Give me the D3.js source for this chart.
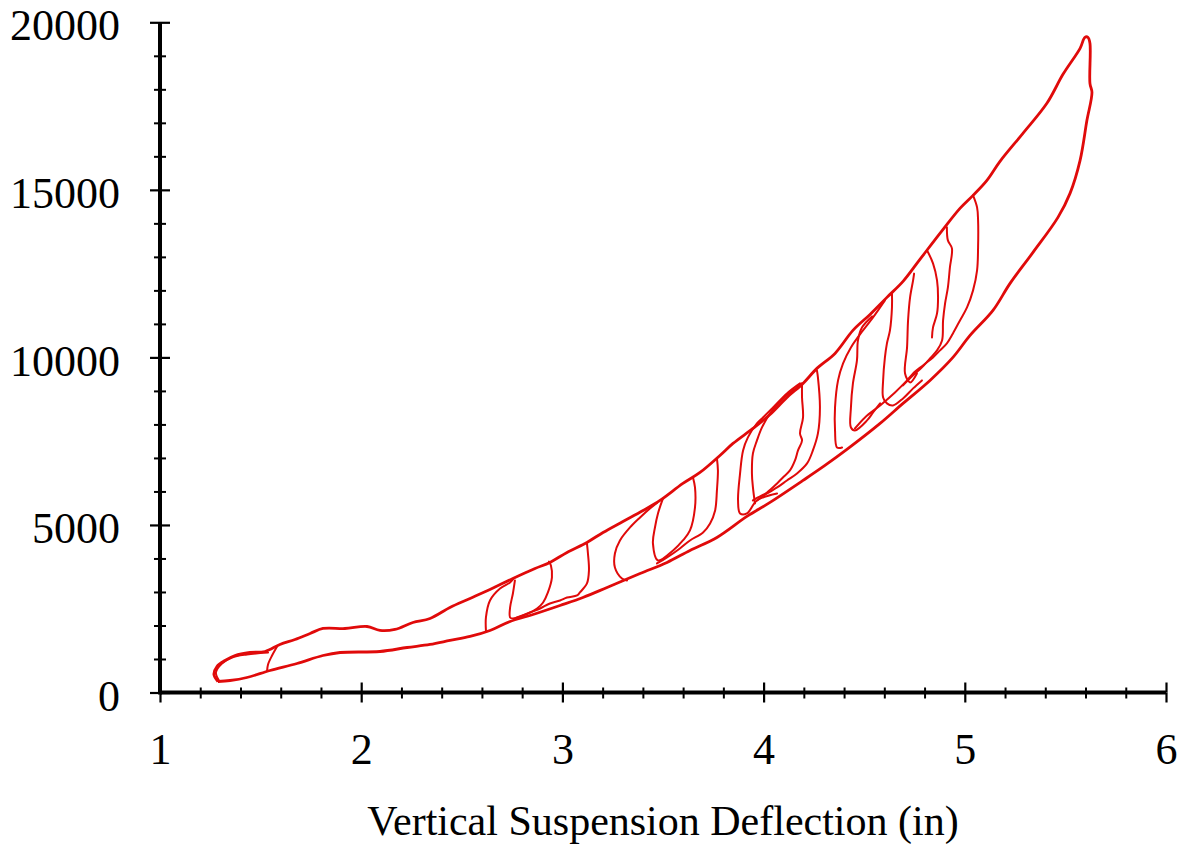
<!DOCTYPE html>
<html>
<head>
<meta charset="utf-8">
<script src="https://cdn.jsdelivr.net/npm/d3@7"></script>
<style>
  body { margin: 0; background: #fff; }
  svg { display: block; }
  text { font-family: "Liberation Serif", "Times New Roman", serif; fill: #000; }
</style>
</head>
<body>
<svg id="chart" width="1180" height="845"></svg>
<script>
// Axis ticks
const xTickValues = [1, 2, 3, 4, 5, 6];
const yTickValues = [0, 5000, 10000, 15000, 20000];
const xMinorStep = 0.2;
const yMinorStep = 1000;
const xTitle = "Vertical Suspension Deflection (in)";

// Deflection (in) vs. vertical load, digitised traces
// Outer loading / unloading envelope
const envelope = [
  [1.288,328],[1.268,537],[1.283,776],[1.323,955],[1.373,1104],[1.447,1194],[1.522,1224],
  [1.596,1433],[1.671,1582],[1.746,1761],[1.810,1910],[1.919,1910],[2.029,1970],[2.093,1851],
  [2.168,1881],[2.257,2090],[2.342,2209],[2.441,2537],[2.541,2806],[2.640,3075],[2.754,3403],
  [2.864,3701],[2.938,3881],[3.023,4180],[3.122,4478],[3.202,4776],[3.301,5104],[3.401,5433],
  [3.485,5731],[3.599,6239],[3.684,6567],[3.783,7074],[3.848,7433],[3.947,7880],[4.032,8298],
  [4.116,8806],[4.196,9224],[4.265,9672],[4.355,10119],[4.444,10806],[4.529,11283],[4.613,11791],
  [4.693,12268],[4.777,12925],[4.892,13821],[4.976,14447],[5.041,14835],[5.110,15283],[5.175,15850],
  [5.289,16686],[5.408,17582],[5.488,18447],[5.573,19223],[5.597,19552],[5.612,19552],
  [5.622,19373],[5.622,18179],[5.632,17910],[5.607,17074],[5.573,15880],[5.523,14895],[5.463,14179],
  [5.339,13134],[5.225,12209],[5.140,11403],[5.026,10656],[4.941,10000],[4.827,9313],[4.693,8627],
  [4.579,8030],[4.414,7254],[4.305,6776],[4.196,6328],[4.032,5672],[3.917,5254],[3.768,4627],
  [3.634,4239],[3.520,3881],[3.386,3552],[3.222,3134],[3.102,2836],[2.988,2597],[2.854,2328],
  [2.740,2119],[2.640,1851],[2.541,1672],[2.441,1552],[2.342,1433],[2.228,1343],[2.093,1224],
  [1.895,1194],[1.810,1104],[1.681,866],[1.547,657],[1.432,448],[1.348,358],[1.288,328]
];

// Second pass over the low-load tip
const tipTrace = [[1.293,358],[1.278,597],[1.308,866],[1.358,1045],[1.432,1134],[1.537,1194]];
const loop1 = [[1.582,1373],[1.557,1104],[1.537,836],[1.532,640]];

// Minor cycles, left to right
const loop2 = [[2.620,1851],[2.620,2239],[2.640,2746],[2.690,3104],[2.740,3284],[2.754,3373]];
const loop3 = [[2.764,3343],[2.754,2955],[2.740,2537],[2.740,2239],[2.754,2209],[2.829,2358],
  [2.874,2507],[2.904,2687],[2.928,2985],[2.948,3433],[2.943,3791],[2.933,3910]];
const loop4 = [[3.122,4448],[3.127,4149],[3.132,3642],[3.122,3254],[3.087,2985],[3.073,2895],
  [3.023,2836],[2.988,2746],[2.938,2657],[2.889,2507],[2.839,2388],[2.774,2239]];
const loop5 = [[3.321,3343],[3.296,3403],[3.261,3731],[3.261,4149],[3.286,4537],[3.336,4925],
  [3.386,5224],[3.435,5492],[3.470,5660]];
const loop6 = [[3.500,5791],[3.475,5343],[3.460,4925],[3.450,4448],[3.475,3940],[3.550,4239],
  [3.599,4537],[3.634,4836],[3.659,5522],[3.659,6119],[3.649,6418]];
const loop7 = [[3.768,6990],[3.773,6627],[3.768,6030],[3.759,5433],[3.734,5045],[3.699,4776],
  [3.634,4537],[3.584,4298],[3.520,4030],[3.470,3851]];
const loop8 = [[4.067,5940],[3.967,5731],[3.917,5343],[3.883,5343],[3.873,5731],[3.883,6537],
  [3.898,7224],[3.922,7612],[3.967,8030],[3.997,8209],[4.047,8507],[4.116,8925],[4.181,9224]];
const loop9 = [[3.957,5642],[3.947,6119],[3.942,6537],[3.947,7134],[3.967,7522],[3.992,7910],
  [4.032,8328],[4.096,8776],[4.166,9104],[4.191,9224]];
const loop10 = [[4.191,9224],[4.191,8806],[4.196,8209],[4.181,7731],[4.191,7522],[4.171,7224],
  [4.156,6925],[4.131,6627],[4.096,6418],[4.067,6239],[4.017,5970],[3.972,5821],[3.947,5731]];
const loop11 = [[4.265,9612],[4.270,9403],[4.280,8507],[4.270,7731],[4.245,7224],[4.216,6836],
  [4.166,6537],[4.116,6328],[4.067,6119],[4.017,5940],[3.967,5731]];
const loop12a = [[4.390,7313],[4.365,7313],[4.355,7821],[4.355,8507],[4.370,9313],[4.395,9821],
  [4.434,10298],[4.494,10806],[4.544,11194],[4.603,11701]];
const loop12b = [[4.539,11224],[4.489,10895],[4.469,10507],[4.464,9910],[4.444,9224],[4.434,8507],
  [4.434,7910],[4.454,7821],[4.514,8119],[4.544,8358],[4.579,8627]];
const loop13 = [[4.638,11900],[4.638,11492],[4.628,10806],[4.613,10418],[4.603,10000],[4.594,9313],
  [4.594,8806],[4.613,8627],[4.643,8567],[4.693,8776],[4.743,9075],[4.787,9313]];
const loop14 = [[4.748,12500],[4.743,12299],[4.728,11791],[4.718,11104],[4.713,10298],[4.703,9522],
  [4.728,9254],[4.762,9522]];
const loop15 = [[4.812,13200],[4.842,12806],[4.862,12299],[4.867,11791],[4.862,11313],
  [4.842,10895],[4.837,10597]];
const loop16 = [[4.911,13881],[4.916,13492],[4.936,13253],[4.926,12686],[4.916,12090],[4.902,11612],
  [4.892,11104],[4.887,10507],[4.862,10209],[4.827,9970],[4.787,9701],[4.743,9463],[4.693,9164]];
const loop17 = [[5.041,14835],[5.061,14477],[5.066,14090],[5.066,13283],[5.061,12597],[5.041,12000],
  [5.011,11492],[4.976,11104],[4.941,10716],[4.911,10418],[4.877,10209],[4.842,10000],[4.792,9761],
  [4.743,9522],[4.713,9313],[4.653,8955],[4.579,8567],[4.504,8209],[4.454,7880]];

const innerTraces = [tipTrace, loop1, loop2, loop3, loop4, loop5, loop6, loop7, loop8, loop9,
  loop10, loop11, loop12a, loop12b, loop13, loop14, loop15, loop16, loop17];

const svg = d3.select("#chart");
const x = d3.scaleLinear().domain([1, 6]).range([160, 1166]);
const y = d3.scaleLinear().domain([0, 20000]).range([692.5, 22.3]);

const line = d3.line()
  .x(d => x(d[0]))
  .y(d => y(d[1]))
  .curve(d3.curveCatmullRom.alpha(0.5));

const red = "#e00a0a";

svg.append("g")
  .selectAll("path")
  .data(innerTraces)
  .join("path")
  .attr("d", line)
  .attr("fill", "none")
  .attr("stroke", red)
  .attr("stroke-width", 2)
  .attr("stroke-linejoin", "round")
  .attr("stroke-linecap", "round");

svg.append("path")
  .datum(envelope)
  .attr("d", line)
  .attr("fill", "none")
  .attr("stroke", red)
  .attr("stroke-width", 2.8)
  .attr("stroke-linejoin", "round");

// Minor tick positions
const xMinor = d3.range(1 + xMinorStep, 6, xMinorStep).filter(v => Math.abs(v - Math.round(v)) > 1e-6);
const yMinor = d3.range(yMinorStep, 20000, yMinorStep).filter(v => v % 5000 !== 0);

function styleTicks(g, w) {
  g.select(".domain").remove();
  g.selectAll(".tick line").attr("stroke", "#000").attr("stroke-width", w);
}

const xAxisY = y(0);
const yAxisX = x(1);

// x axis: ticks cross the axis line
svg.append("g").attr("transform", `translate(0,${xAxisY})`)
  .call(d3.axisBottom(x).tickValues(xMinor).tickSize(6).tickFormat(""))
  .call(g => styleTicks(g, 2));
svg.append("g").attr("transform", `translate(0,${xAxisY})`)
  .call(d3.axisTop(x).tickValues(xMinor).tickSize(5).tickFormat(""))
  .call(g => styleTicks(g, 2));
svg.append("g").attr("transform", `translate(0,${xAxisY})`)
  .call(d3.axisTop(x).tickValues(xTickValues).tickSize(10).tickFormat(""))
  .call(g => styleTicks(g, 2.2));
const xAxis = svg.append("g").attr("transform", `translate(0,${xAxisY})`)
  .call(d3.axisBottom(x).tickValues(xTickValues).tickSize(10).tickPadding(30).tickFormat(d3.format("d")))
  .call(g => styleTicks(g, 2.2));
xAxis.selectAll(".tick text").style("font-size", "44px").attr("fill", "#000");

// y axis
svg.append("g").attr("transform", `translate(${yAxisX},0)`)
  .call(d3.axisLeft(y).tickValues(yMinor).tickSize(6).tickFormat(""))
  .call(g => styleTicks(g, 2));
svg.append("g").attr("transform", `translate(${yAxisX},0)`)
  .call(d3.axisRight(y).tickValues(yMinor).tickSize(6).tickFormat(""))
  .call(g => styleTicks(g, 2));
svg.append("g").attr("transform", `translate(${yAxisX},0)`)
  .call(d3.axisRight(y).tickValues(yTickValues).tickSize(10).tickFormat(""))
  .call(g => styleTicks(g, 2.2));
const yAxis = svg.append("g").attr("transform", `translate(${yAxisX},0)`)
  .call(d3.axisLeft(y).tickValues(yTickValues).tickSize(10).tickPadding(30).tickFormat(d3.format("d")))
  .call(g => styleTicks(g, 2.2));
yAxis.selectAll(".tick text").style("font-size", "44px").attr("dy", "0.4em").attr("fill", "#000");

// Axis lines
svg.append("line")
  .attr("x1", x(1)).attr("x2", x(6)).attr("y1", xAxisY).attr("y2", xAxisY)
  .attr("stroke", "#000").attr("stroke-width", 4);
svg.append("line")
  .attr("x1", yAxisX).attr("x2", yAxisX).attr("y1", y(0) + 2).attr("y2", y(20000))
  .attr("stroke", "#000").attr("stroke-width", 4);

svg.append("text")
  .attr("x", (x(1) + x(6)) / 2)
  .attr("y", 835)
  .attr("text-anchor", "middle")
  .style("font-size", "42px")
  .text(xTitle);
</script>
</body>
</html>
